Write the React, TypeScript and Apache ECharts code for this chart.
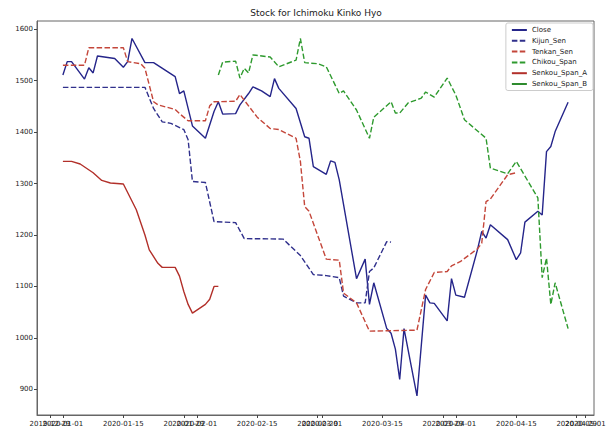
import React, { useEffect, useRef } from "react";
import * as echarts from "echarts";

const TITLE = "Stock for Ichimoku Kinko Hyo";
const X_MIN = "2019-12-26";
const X_MAX = "2020-05-03";
const X_TICKS_MAIN = [
  "2020-01-01", "2020-01-15", "2020-02-01", "2020-02-15", "2020-03-01", "2020-03-15",
  "2020-04-01", "2020-04-15", "2020-05-01",
];
const X_TICKS_EXTRA = ["2019-12-29", "2020-01-29", "2020-02-29", "2020-03-29", "2020-04-29"];
const Y_TICKS = [900, 1000, 1100, 1200, 1300, 1400, 1500, 1600];

const CLOSE_DATES = [
  "2020-01-01", "2020-01-02", "2020-01-03", "2020-01-06", "2020-01-07", "2020-01-08", "2020-01-09",
  "2020-01-13", "2020-01-15", "2020-01-16", "2020-01-17", "2020-01-20", "2020-01-22", "2020-01-27",
  "2020-01-28", "2020-01-29", "2020-01-31", "2020-02-03", "2020-02-05", "2020-02-06", "2020-02-07",
  "2020-02-10", "2020-02-11", "2020-02-13", "2020-02-14", "2020-02-16", "2020-02-18", "2020-02-19",
  "2020-02-20", "2020-02-24", "2020-02-26", "2020-02-27", "2020-02-28", "2020-03-02", "2020-03-03",
  "2020-03-04", "2020-03-05", "2020-03-09", "2020-03-11", "2020-03-12", "2020-03-13", "2020-03-16",
  "2020-03-17", "2020-03-18", "2020-03-19", "2020-03-20", "2020-03-23", "2020-03-25", "2020-03-26",
  "2020-03-27", "2020-03-30", "2020-03-31", "2020-04-01", "2020-04-03", "2020-04-06", "2020-04-07",
  "2020-04-08", "2020-04-09", "2020-04-13", "2020-04-15", "2020-04-16", "2020-04-17", "2020-04-20",
  "2020-04-21", "2020-04-22", "2020-04-23", "2020-04-24", "2020-04-27",
];
const CLOSE_VALUES = [
  1511, 1537, 1537, 1503, 1525, 1515, 1548,
  1543, 1526, 1537, 1582, 1535, 1535, 1508,
  1475, 1480, 1412, 1388, 1440, 1459, 1435,
  1436, 1453, 1475, 1488, 1480, 1469, 1504,
  1485, 1446, 1391, 1388, 1333, 1318, 1344,
  1341, 1307, 1115, 1153, 1065, 1107, 1018,
  1009, 978, 919, 1018, 887, 1083, 1068,
  1067, 1033, 1115, 1083, 1079, 1171, 1207,
  1194, 1220, 1191, 1152, 1165, 1225, 1246,
  1239, 1362, 1372, 1401, 1458,
];

const KIJUN_DATES = [
  "2020-01-01", "2020-01-20", "2020-01-22", "2020-01-24", "2020-01-26", "2020-01-29", "2020-01-30",
  "2020-01-31", "2020-02-03", "2020-02-05", "2020-02-10", "2020-02-12", "2020-02-21", "2020-02-25",
  "2020-02-28", "2020-03-02", "2020-03-05", "2020-03-06", "2020-03-09", "2020-03-11", "2020-03-12",
  "2020-03-13", "2020-03-16", "2020-03-17",
];
const KIJUN_VALUES = [
  1487, 1487, 1446, 1420, 1417, 1405, 1385,
  1304, 1302, 1226, 1224, 1193, 1192, 1160,
  1123, 1121, 1117, 1081, 1068, 1068, 1129,
  1136, 1187, 1186,
];

const TENKAN_DATES = [
  "2020-01-01", "2020-01-06", "2020-01-07", "2020-01-15", "2020-01-16", "2020-01-19", "2020-01-20",
  "2020-01-22", "2020-01-23", "2020-01-27", "2020-01-28", "2020-01-30", "2020-02-03", "2020-02-04",
  "2020-02-05", "2020-02-10", "2020-02-11", "2020-02-12", "2020-02-15", "2020-02-18", "2020-02-20",
  "2020-02-24", "2020-02-25", "2020-02-26", "2020-02-27", "2020-03-02", "2020-03-05", "2020-03-06",
  "2020-03-09", "2020-03-12", "2020-03-23", "2020-03-25", "2020-03-27", "2020-03-30", "2020-03-31",
  "2020-04-02", "2020-04-06", "2020-04-07", "2020-04-08", "2020-04-09", "2020-04-13", "2020-04-15",
];
const TENKAN_VALUES = [
  1530, 1530, 1564, 1564, 1537, 1533, 1524,
  1459, 1453, 1444, 1436, 1422, 1422, 1451,
  1459, 1460, 1473, 1462, 1429, 1407, 1405,
  1388, 1343, 1255, 1246, 1153, 1151, 1087,
  1068, 1013, 1015, 1094, 1127, 1129, 1140,
  1148, 1173, 1184, 1265, 1270, 1317, 1321,
];

const CHIKOU_DATES = [
  "2020-02-06", "2020-02-07", "2020-02-10", "2020-02-11", "2020-02-12", "2020-02-13", "2020-02-14",
  "2020-02-18", "2020-02-20", "2020-02-24", "2020-02-25", "2020-02-26", "2020-02-29", "2020-03-02",
  "2020-03-05", "2020-03-06", "2020-03-09", "2020-03-12", "2020-03-13", "2020-03-17", "2020-03-18",
  "2020-03-19", "2020-03-21", "2020-03-24", "2020-03-25", "2020-03-27", "2020-03-30", "2020-04-01",
  "2020-04-03", "2020-04-08", "2020-04-09", "2020-04-13", "2020-04-15", "2020-04-20", "2020-04-21",
  "2020-04-22", "2020-04-23", "2020-04-24", "2020-04-27",
];
const CHIKOU_VALUES = [
  1511, 1536, 1538, 1505, 1524, 1515, 1550,
  1546, 1527, 1540, 1582, 1535, 1533, 1527,
  1475, 1480, 1443, 1388, 1429, 1459, 1437,
  1437, 1457, 1466, 1478, 1468, 1505, 1472,
  1424, 1388, 1330, 1319, 1343, 1272, 1117,
  1155, 1065, 1107, 1018,
];

const SENKOU_A_DATES = [
  "2020-01-01", "2020-01-03", "2020-01-05", "2020-01-08", "2020-01-10", "2020-01-12", "2020-01-15",
  "2020-01-18", "2020-01-20", "2020-01-21", "2020-01-23", "2020-01-24", "2020-01-27", "2020-01-28",
  "2020-01-29", "2020-01-30", "2020-01-31", "2020-02-03", "2020-02-04", "2020-02-05", "2020-02-06",
];
const SENKOU_A_VALUES = [
  1343, 1343, 1338, 1321, 1306, 1301, 1299,
  1249, 1200, 1171, 1145, 1137, 1137, 1120,
  1090, 1065, 1048, 1065, 1075, 1100, 1100,
];

const SENKOU_B_DATES: string[] = [];
const SENKOU_B_VALUES: number[] = [];

const FONT = "DejaVu Sans";
const DAY = 86400000;

function dayNum(d: string): number {
  const [y, m, day] = d.split("-").map(Number);
  return Math.round(Date.UTC(y, m - 1, day) / DAY);
}
function fmt(v: number): string {
  const d = new Date(Math.round(v) * DAY);
  const p = (n: number) => String(n).padStart(2, "0");
  return `${d.getUTCFullYear()}-${p(d.getUTCMonth() + 1)}-${p(d.getUTCDate())}`;
}
function pairs(dates: string[], vals: number[]) {
  return dates.map((d, i) => [dayNum(d), vals[i]]);
}

export default function App() {
  const ref = useRef<HTMLDivElement>(null);
  useEffect(() => {
    if (!ref.current) return;
    const chart = echarts.init(ref.current, undefined, { renderer: "svg" });
    const dash = [5.5, 2.4];
    const mk = (name: string, data: any[], color: string, type: any) => ({
      name,
      type: "line",
      data,
      symbol: "none",
      showSymbol: false,
      xAxisIndex: 0,
      lineStyle: { color, width: 1.4, type },
      itemStyle: { color },
      emphasis: { disabled: true },
    });
    const xAxisBase = (ticks: number[], showLine: boolean) => ({
      type: "value",
      position: "bottom",
      min: dayNum(X_MIN),
      max: dayNum(X_MAX),
      splitLine: { show: false },
      axisLine: { show: showLine, lineStyle: { color: "#666" } },
      axisTick: { show: true, length: 3, customValues: ticks, lineStyle: { color: "#444" } },
      axisLabel: {
        customValues: ticks,
        formatter: (v: number) => fmt(v),
        fontFamily: FONT,
        fontSize: 7,
        color: "#222",
        margin: 5,
        hideOverlap: false,
      },
    });
    chart.setOption({
      animation: false,
      backgroundColor: "#ffffff",
      textStyle: { fontFamily: FONT },
      graphic: [
        {
          type: "text",
          x: 316,
          y: 13,
          style: {
            text: TITLE,
            fontFamily: FONT,
            fontSize: 9,
            fill: "#222",
            textAlign: "center",
            textVerticalAlign: "middle",
          },
        },
      ],
      grid: {
        left: 37,
        right: 19,
        top: 21,
        bottom: 13,
        show: true,
        borderColor: "#666",
        borderWidth: 1,
        containLabel: false,
        outerBoundsMode: "none",
      },
      legend: {
        orient: "vertical",
        right: 20,
        top: 23,
        itemWidth: 15,
        itemHeight: 8,
        itemGap: 3.8,
        padding: [3.5, 6, 3, 5],
        borderColor: "#cccccc",
        borderWidth: 1,
        borderRadius: 2,
        backgroundColor: "#ffffff",
        itemStyle: { opacity: 0 },
        textStyle: { fontFamily: FONT, fontSize: 7, color: "#222" },
        data: ["Close", "Kijun_Sen", "Tenkan_Sen", "Chikou_Span", "Senkou_Span_A", "Senkou_Span_B"],
      },
      xAxis: [
        xAxisBase(X_TICKS_MAIN.map(dayNum), true),
        xAxisBase(X_TICKS_EXTRA.map(dayNum), false),
      ],
      yAxis: {
        type: "value",
        min: 850,
        max: 1616,
        splitLine: { show: false },
        axisLine: { show: true, lineStyle: { color: "#666" } },
        axisTick: { show: true, length: 3, customValues: Y_TICKS, lineStyle: { color: "#444" } },
        axisLabel: {
          customValues: Y_TICKS,
          formatter: (v: number) => String(v),
          fontFamily: FONT,
          fontSize: 7,
          color: "#222",
          margin: 4,
        },
      },
      series: [
        mk("Close", pairs(CLOSE_DATES, CLOSE_VALUES), "#25258a", "solid"),
        mk("Kijun_Sen", pairs(KIJUN_DATES, KIJUN_VALUES), "#30308c", dash),
        mk("Tenkan_Sen", pairs(TENKAN_DATES, TENKAN_VALUES), "#c4463a", dash),
        mk("Chikou_Span", pairs(CHIKOU_DATES, CHIKOU_VALUES), "#2e9a2e", dash),
        mk("Senkou_Span_A", pairs(SENKOU_A_DATES, SENKOU_A_VALUES), "#b2302a", "solid"),
        mk("Senkou_Span_B", pairs(SENKOU_B_DATES, SENKOU_B_VALUES), "#2e8b2e", "solid"),
      ],
    });
    return () => chart.dispose();
  }, []);
  return (
    <div
      ref={ref}
      style={{ position: "absolute", left: 0, top: 0, width: 613, height: 428, background: "#fff" }}
    />
  );
}
